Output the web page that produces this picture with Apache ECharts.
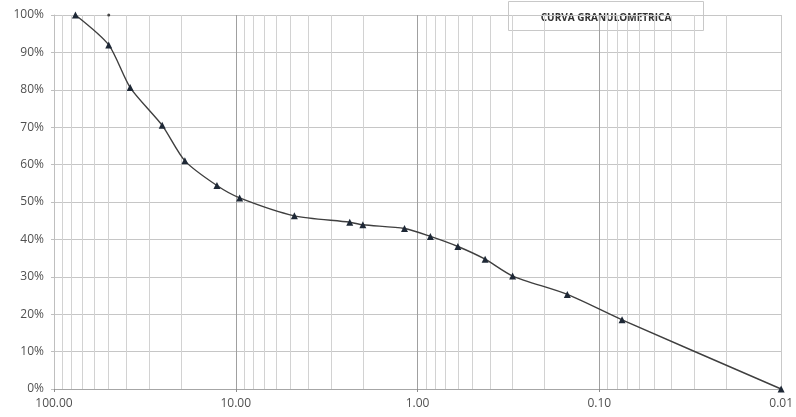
<!DOCTYPE html>
<html>
<head>
<meta charset="utf-8">
<title>Curva granulométrica</title>
<script src="https://cdn.jsdelivr.net/npm/echarts@6/dist/echarts.min.js"></script>
<style>
  html, body { margin: 0; padding: 0; background: #ffffff; }
  #chart { width: 796px; height: 417px; }
</style>
</head>
<body>
<div id="chart"></div>
<script>
// Sieve openings (mm) and cumulative percent passing
const aberturas = [76.2, 50, 38.1, 25.4, 19.05, 12.7, 9.525, 4.76, 2.36, 2.0, 1.18, 0.85, 0.6, 0.425, 0.3, 0.15, 0.075, 0.01];
const pasa = [100, 92, 80.6, 70.5, 61.0, 54.4, 51.1, 46.3, 44.6, 43.9, 42.9, 40.8, 38.1, 34.7, 30.2, 25.3, 18.5, 0];

// Isolated point plotted at the top of the chart
const puntoSuelto = [[50, 100]];

// Decade boundaries of the log axis
const decadas = [0.01, 0.1, 1, 10, 100];
const decadasInternas = [0.1, 1, 10];
// Intermediate log grid multipliers (2..9 within each decade)
const multiplicadores = [2, 3, 4, 5, 6, 7, 8, 9];

const tituloGrafico = 'CURVA GRANULOMETRICA';

const lineasMenores = [];
decadas.slice(0, -1).forEach(function (d) {
  multiplicadores.forEach(function (m) {
    lineasMenores.push({ xAxis: +(d * m).toPrecision(6) });
  });
});
const lineasMayores = decadasInternas.map(function (d) { return { xAxis: d }; });

const chart = echarts.init(document.getElementById('chart'), null, { renderer: 'canvas' });

const font = '"Open Sans", "Liberation Sans", sans-serif';

chart.setOption({
  animation: false,
  backgroundColor: '#ffffff',
  grid: { left: 54, right: 13, top: 15, bottom: 28, containLabel: false },
  xAxis: {
    type: 'log',
    logBase: 10,
    min: decadas[0],
    max: decadas[decadas.length - 1],
    inverse: true,
    axisLine: { show: true, onZero: false, lineStyle: { color: '#a6a6a6', width: 1 } },
    axisTick: { show: true, length: 3, lineStyle: { color: '#8c8c8c' } },
    axisLabel: {
      color: '#505050',
      fontFamily: font,
      fontSize: 12,
      margin: 9,
      formatter: function (v) { return Number(v).toFixed(2); }
    },
    splitLine: { show: true, lineStyle: { color: '#c9c9c9', width: 1 } }
  },
  yAxis: {
    type: 'value',
    min: 0,
    max: 100,
    interval: 10,
    axisLine: { show: true, lineStyle: { color: '#bfbfbf', width: 1 } },
    axisTick: { show: true, length: 3, lineStyle: { color: '#bfbfbf' } },
    axisLabel: {
      color: '#505050',
      fontFamily: font,
      fontSize: 12,
      margin: 10,
      formatter: function (v) { return v + '%'; }
    },
    splitLine: { show: true, lineStyle: { color: '#c6c6c6', width: 1 } }
  },
  series: [
    {
      // intermediate log grid lines
      type: 'line',
      data: [],
      silent: true,
      z: 1,
      markLine: {
        silent: true,
        symbol: 'none',
        label: { show: false },
        animation: false,
        lineStyle: { color: '#d2d2d2', width: 1, type: 'solid' },
        data: lineasMenores
      }
    },
    {
      // decade grid lines
      type: 'line',
      data: [],
      silent: true,
      z: 1,
      markLine: {
        silent: true,
        symbol: 'none',
        label: { show: false },
        animation: false,
        lineStyle: { color: '#a0a0a0', width: 1, type: 'solid' },
        data: lineasMayores
      }
    },
    {
      name: 'Pasa',
      type: 'line',
      z: 5,
      smooth: 0.25,
      data: aberturas.map(function (a, i) { return [a, pasa[i]]; }),
      symbol: 'triangle',
      symbolSize: 7,
      lineStyle: { color: '#3f3f3f', width: 1.4 },
      itemStyle: { color: '#1e2836' }
    },
    {
      type: 'scatter',
      z: 5,
      data: puntoSuelto,
      symbol: 'circle',
      symbolSize: 3,
      itemStyle: { color: '#1e1e1e' }
    }
  ],
  graphic: [
    {
      type: 'group',
      left: 508,
      top: 1,
      z: 100,
      zlevel: 1,
      children: [
        {
          type: 'rect',
          shape: { x: 0, y: 0, width: 195, height: 29 },
          style: { fill: '#ffffff', stroke: '#c8c8c8', lineWidth: 1 }
        },
        {
          type: 'text',
          x: 97.5,
          y: 16.5,
          style: {
            text: tituloGrafico,
            fill: '#333333',
            fontFamily: font,
            fontSize: 10,
            fontWeight: 'bold',
            align: 'center',
            verticalAlign: 'middle'
          }
        }
      ]
    }
  ]
});
</script>
</body>
</html>
